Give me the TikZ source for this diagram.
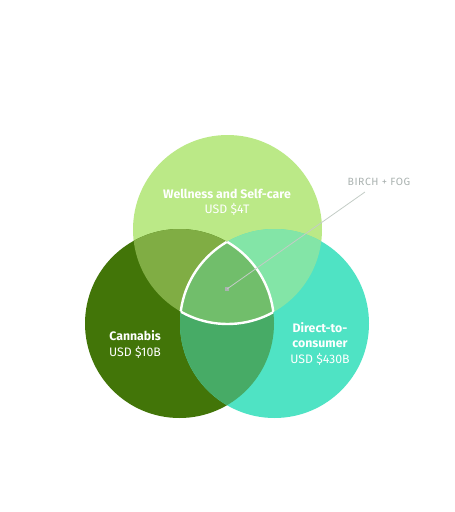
\documentclass[tikz,border=0pt]{standalone}
\usepackage{fontspec}
\setmainfont{Fira Sans}
\newfontfamily\spaced[LetterSpace=5]{Fira Sans}
\definecolor{cTop}{RGB}{187,233,135}
\definecolor{cLeft}{RGB}{66,117,8}
\definecolor{cRight}{RGB}{79,227,196}
\definecolor{cTL}{RGB}{128,173,68}
\definecolor{cTR}{RGB}{131,229,167}
\definecolor{cLR}{RGB}{71,171,102}
\definecolor{cMid}{RGB}{113,190,107}
\definecolor{cLabel}{RGB}{170,178,176}
\definecolor{cLine}{RGB}{195,204,198}
\begin{document}
\begin{tikzpicture}[x=1pt,y=-1pt,
  lbl/.style={text=white,align=center,font=\fontsize{12.3}{15.5}\selectfont,inner sep=0pt}]
\useasboundingbox (0,0) rectangle (455,512);
\coordinate (T) at (227.5,229.5);
\coordinate (L) at (179.5,323.5);
\coordinate (R) at (274.5,323.5);
\def\rr{94.5}
\fill[cTop] (T) circle (\rr);
\fill[cLeft] (L) circle (\rr);
\fill[cRight] (R) circle (\rr);
\begin{scope}
  \clip (T) circle (\rr);
  \fill[cTL] (L) circle (\rr);
  \fill[cTR] (R) circle (\rr);
\end{scope}
\begin{scope}
  \clip (L) circle (\rr);
  \fill[cLR] (R) circle (\rr);
\end{scope}
\begin{scope}
  \clip (T) circle (\rr);
  \clip (L) circle (\rr);
  \fill[cMid] (R) circle (\rr);
\end{scope}
% white outline of the triple intersection
\begin{scope}
  \clip (T) circle (\rr);
  \clip (L) circle (\rr);
  \draw[white,line width=2.4pt] (R) circle (\rr);
\end{scope}
\begin{scope}
  \clip (T) circle (\rr);
  \clip (R) circle (\rr);
  \draw[white,line width=2.4pt] (L) circle (\rr);
\end{scope}
\begin{scope}
  \clip (L) circle (\rr);
  \clip (R) circle (\rr);
  \draw[white,line width=2.4pt] (T) circle (\rr);
\end{scope}
\node[lbl] (wel) at (227,202.5) {\textbf{Wellness and Self-care}\\USD \$4T};
\node[lbl] (can) at (135,344.5) {\textbf{Cannabis}\\USD \$10B};
\node[lbl] (dtc) at (320,343.5) {\textbf{Direct-to-}\\\textbf{consumer}\\USD \$430B};
\node[text=cLabel,font=\fontsize{10.5}{12}\spaced,inner sep=0pt] (bf) at (379,182) {BIRCH + FOG};
\coordinate (lineEnd) at (365,192);
\node[fill=cLabel,minimum size=3.5pt,inner sep=0pt] (dot) at (227,289) {};
\draw[cLine,line width=0.8pt] (dot.center) -- (lineEnd);
\end{tikzpicture}
\end{document}
